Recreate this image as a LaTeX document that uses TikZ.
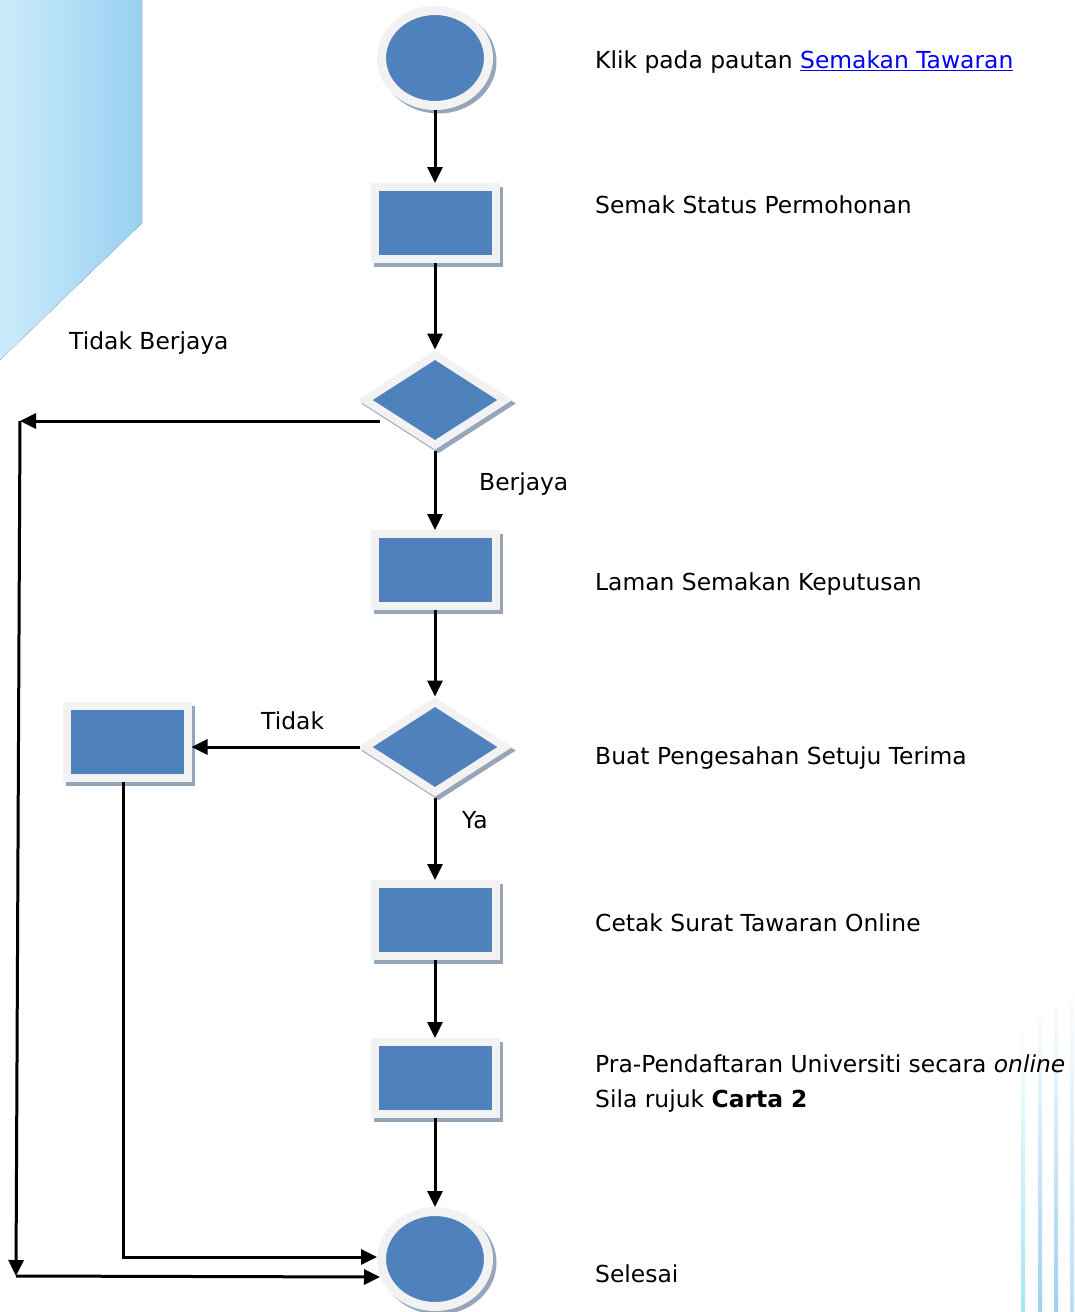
\documentclass[tikz,border=0pt]{standalone}
\usepackage{fontspec}
\setmainfont{DejaVu Sans}
\usetikzlibrary{arrows.meta,shapes.geometric,calc}
\definecolor{fillblue}{HTML}{4F81BD}
\definecolor{ringgrey}{HTML}{F2F2F2}
\definecolor{shadowc}{HTML}{97A5B9}
\definecolor{linkblue}{HTML}{0000FF}
\definecolor{bgl}{HTML}{CBEBFB}
\definecolor{bgr}{HTML}{98D1F1}
\definecolor{stripcyan}{HTML}{A6E6EE}
\definecolor{stripblue}{HTML}{9CD0F4}
\tikzset{
  shapebase/.style={fill=fillblue, draw=ringgrey, inner sep=0pt,
    preaction={draw=shadowc, fill=shadowc, transform canvas={xshift=3.5pt,yshift=-3.5pt}}},
  procbox/.style={shapebase, rectangle, line width=8pt, minimum width=121pt, minimum height=72pt},
  termnode/.style={shapebase, ellipse, line width=9pt, minimum width=107pt, minimum height=95pt},
  decnode/.style={shapebase, diamond, line width=8pt, minimum width=143pt, minimum height=93pt},
  arr/.style={line width=3pt, -{Triangle[length=16pt,width=15pt]}},
  lbl/.style={anchor=base west, inner sep=0pt, font=\fontsize{23.4}{35}\selectfont},
}
\begin{document}
\begin{tikzpicture}[x=1pt,y=-1pt]
\useasboundingbox (0,0) rectangle (1074,1312);
% background decorations
\fill[left color=bgl, right color=bgr] (0,0) -- (142,0) -- (142,223) -- (0,360) -- cycle;
\shade[top color=white, bottom color=stripcyan] (1021,1020) rectangle (1025,1312);
\shade[top color=white, bottom color=stripblue] (1038,1005) rectangle (1042,1312);
\shade[top color=white, bottom color=stripblue] (1054,990) rectangle (1058,1312);
\shade[top color=white, bottom color=stripblue!70] (1070,975) rectangle (1074,1312);

% shapes
\node[termnode] (c1) at (435,58) {};
\node[procbox] (r1) at (435,223) {};
\node[decnode] (d1) at (435,400) {};
\node[procbox] (r2) at (435,570) {};
\node[decnode] (d2) at (435,747) {};
\node[procbox] (r3) at (127,742) {};
\node[procbox] (r4) at (435,920) {};
\node[procbox] (r5) at (435,1078) {};
\node[termnode] (c2) at (435,1259) {};

\coordinate (tl) at (20,421);
\coordinate (bl) at (16,1276);

% connectors
\draw[arr] (c1.south) -- (r1.north);
\draw[arr] (r1.south) -- (d1.north);
\draw[arr] (d1.south) -- (r2.north);
\draw[arr] (r2.south) -- (d2.north);
\draw[arr] (d2.south) -- (r4.north);
\draw[arr] (r4.south) -- (r5.north);
\draw[arr] (r5.south) -- (c2.north);
\draw[arr] ([xshift=20pt,yshift=-21pt]d1.west) -- (tl);
\draw[arr] (tl) -- (bl);
\draw[arr] (bl) -- ([yshift=-18pt,xshift=3pt]c2.west);
\draw[arr] (d2.west) -- (d2.west -| r3.east);
\draw[arr] ([xshift=-4pt]r3.south) |- ([yshift=2pt]c2.west);

% labels
\node[lbl] (t1) at (595,68) {Klik pada pautan \textcolor{linkblue}{\underline{Semakan Tawaran}}};
\node[lbl] (t2) at (595,213) {Semak Status Permohonan};
\node[lbl] (t3) at (595,590) {Laman Semakan Keputusan};
\node[lbl] (t4) at (595,764) {Buat Pengesahan Setuju Terima};
\node[lbl] (t5) at (595,931) {Cetak Surat Tawaran Online};
\node[lbl] (t6) at (595,1072) {Pra-Pendaftaran Universiti secara \textit{online}};
\node[lbl] (t7) at (595,1107) {Sila rujuk \textbf{Carta 2}};
\node[lbl] (t8) at (595,1282) {Selesai};
\node[lbl] (l1) at (69,349) {Tidak Berjaya};
\node[lbl] (l2) at (479,490) {Berjaya};
\node[lbl] (l3) at (261,729) {Tidak};
\node[lbl] (l4) at (462,828) {Ya};
\end{tikzpicture}
\end{document}
